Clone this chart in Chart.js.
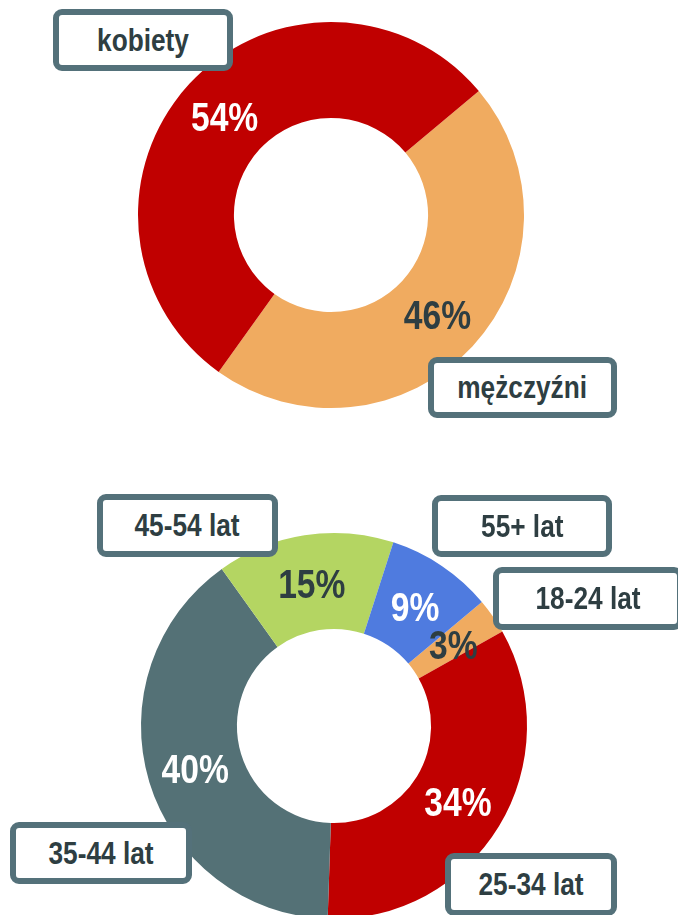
<!DOCTYPE html>
<html lang="pl">
  <head>
    <title>Struktura odbiorców</title>
    <meta charset="utf-8">
    <script src="https://cdn.jsdelivr.net/npm/chart.js@4/dist/chart.umd.min.js"></script>
    <style>
      html, body { margin: 0; padding: 0; width: 678px; height: 915px; overflow: hidden; background: #fff; }
      .chart-box { position: absolute; left: 0; }
      .tag {
        position: absolute; box-sizing: border-box;
        border: 6px solid #54717A; border-radius: 9px; background: #fff;
        color: #2E3E42; font: bold 32px "Liberation Sans", Arial, sans-serif;
        display: flex; align-items: center; justify-content: center; z-index: 2;
        white-space: nowrap;
      }
      .tag span { display: inline-block; transform: scaleX(0.82); }
    </style>
  </head>
  <body>
    <div class="chart-box" style="top: 0; width: 662px; height: 430px;"><canvas id="genderChart"></canvas></div>
    <div class="chart-box" style="top: 526px; width: 668px; height: 400px;"><canvas id="ageChart"></canvas></div>

    <div class="tag" style="left: 53px; top: 9px; width: 180px; height: 62px;"><span>kobiety</span></div>
    <div class="tag" style="left: 428px; top: 357px; width: 189px; height: 61px;"><span>mężczyźni</span></div>
    <div class="tag" style="left: 97px; top: 494px; width: 181px; height: 63px;"><span>45-54 lat</span></div>
    <div class="tag" style="left: 432px; top: 495px; width: 180px; height: 62px;"><span>55+ lat</span></div>
    <div class="tag" style="left: 493px; top: 567px; width: 190px; height: 63px;"><span>18-24 lat</span></div>
    <div class="tag" style="left: 10px; top: 822px; width: 182px; height: 62px;"><span>35-44 lat</span></div>
    <div class="tag" style="left: 445px; top: 853px; width: 172px; height: 63px;"><span>25-34 lat</span></div>
  </body>
  <script>
    // dane
    var genderLabels = ['mężczyźni', 'kobiety'];
    var genderValues = [46, 54];
    var genderColors = ['#F0AB60', '#C00000'];
    var genderTextColors = ['#2E3E42', '#FFFFFF'];

    var ageLabels = ['18-24 lat', '25-34 lat', '35-44 lat', '45-54 lat', '55+ lat'];
    var ageValues = [3, 34, 40, 15, 9];
    var ageColors = ['#F0AB60', '#C00000', '#547176', '#B4D562', '#4F7BDF'];
    var ageTextColors = ['#2E3E42', '#FFFFFF', '#FFFFFF', '#2E3E42', '#FFFFFF'];

    // procenty na wycinkach (wąska czcionka = Liberation Sans ściśnięta w poziomie)
    var valueLabels = {
        id: 'valueLabels',
        afterDatasetsDraw: function(chart) {
            var ctx = chart.ctx;
            var ds = chart.data.datasets[0];
            chart.getDatasetMeta(0).data.forEach(function(arc, i) {
                var p = arc.tooltipPosition();
                ctx.save();
                ctx.translate(p.x, p.y);
                ctx.scale(0.82, 1);
                ctx.font = 'bold 41px "Liberation Sans", Arial, sans-serif';
                ctx.fillStyle = ds.textColors[i];
                ctx.textAlign = 'center';
                ctx.textBaseline = 'alphabetic';
                ctx.fillText(ds.data[i] + '%', 0, 15);
                ctx.restore();
            });
        }
    };

    function makeDoughnut(id, labels, values, colors, textColors) {
        return new Chart(document.getElementById(id), {
            type: 'doughnut',
            data: {
                labels: labels,
                datasets: [{
                    data: values,
                    backgroundColor: colors,
                    textColors: textColors,
                    borderWidth: 0
                }]
            },
            options: {
                responsive: true,
                maintainAspectRatio: false,
                animation: false,
                rotation: 50,
                radius: 193,
                cutout: '50.3%',
                layout: { padding: 0 },
                plugins: { legend: { display: false }, tooltip: { enabled: false } }
            },
            plugins: [valueLabels]
        });
    }

    makeDoughnut('genderChart', genderLabels, genderValues, genderColors, genderTextColors);
    makeDoughnut('ageChart', ageLabels, ageValues, ageColors, ageTextColors);
  </script>
</html>
